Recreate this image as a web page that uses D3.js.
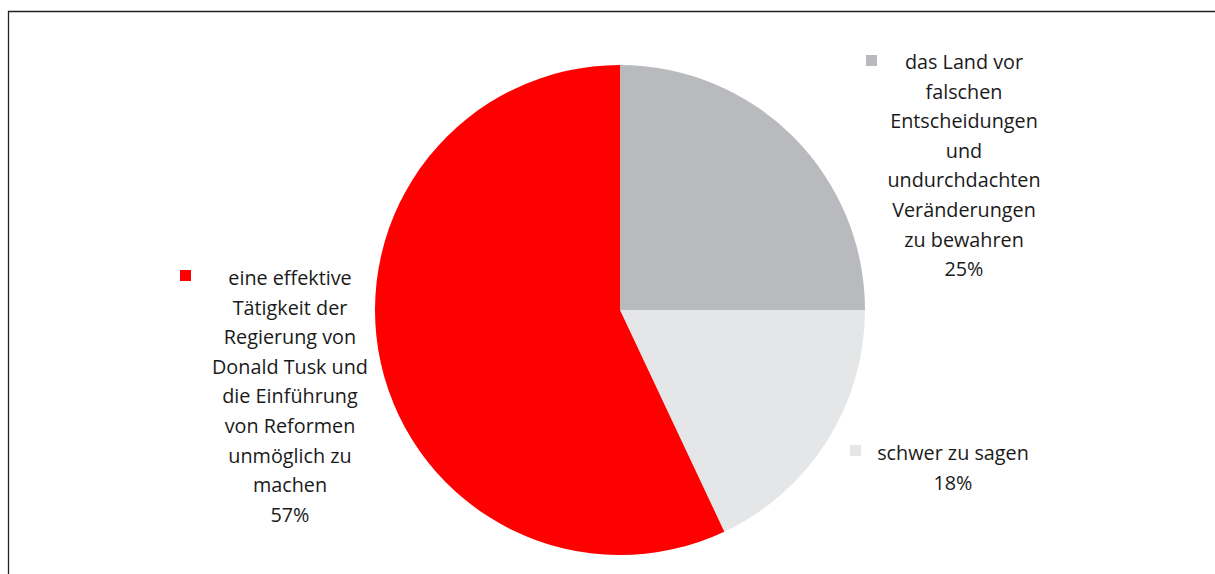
<!DOCTYPE html>
<html><head><meta charset="utf-8">
<script src="https://cdn.jsdelivr.net/npm/d3@7"></script>
<style>body{margin:0;background:#fff;}svg{display:block;}</style>
</head><body>
<svg id="c" width="1215" height="574"></svg>
<script>
const categories = ["das Land vor falschen Entscheidungen und undurchdachten Veränderungen zu bewahren", "schwer zu sagen", "eine effektive Tätigkeit der Regierung von Donald Tusk und die Einführung von Reformen unmöglich zu machen"];
const values = [25, 18, 57];
const colors = ["#B9BABD", "#E5E6E8", "#FF0000"];
const labelLines = [
  ["das Land vor", "falschen", "Entscheidungen", "und", "undurchdachten", "Veränderungen", "zu bewahren", "25%"],
  ["schwer zu sagen", "18%"],
  ["eine effektive", "Tätigkeit der", "Regierung von", "Donald Tusk und", "die Einführung", "von Reformen", "unmöglich zu", "machen", "57%"]
];

const svg = d3.select("#c");
svg.append("path").attr("d", "M8.5,580 L8.5,11.5 L1220,11.5").attr("fill","none").attr("stroke","#222").attr("stroke-width",1.3);

const cx = 620, cy = 310, r = 245;
const pie = d3.pie().sort(null).value(d => d);
const arc = d3.arc().innerRadius(0).outerRadius(r);
const g = svg.append("g").attr("transform", `translate(${cx},${cy})`);
g.selectAll("path").data(pie(values)).join("path")
  .attr("d", arc).attr("fill", (d,i) => colors[i]);

const font = "'Open Sans', Lato, sans-serif";
const lh = 29.6;
const labelPos = [
  {x: 964, y: 69, sx: 866, sy: 55},
  {x: 953, y: 460, sx: 850, sy: 445},
  {x: 290, y: 285, sx: 180, sy: 270}
];
labelLines.forEach((lines, i) => {
  const p = labelPos[i];
  svg.append("rect").attr("x", p.sx).attr("y", p.sy).attr("width", 11).attr("height", 11).attr("fill", colors[i]);
  const t = svg.append("text").attr("text-anchor","middle").attr("font-family", font)
    .attr("font-size", 19.8).attr("fill", "#1a1a1a");
  lines.forEach((l, j) => {
    t.append("tspan").attr("x", p.x).attr("y", p.y + j*lh).text(l);
  });
});
</script>
</body></html>
